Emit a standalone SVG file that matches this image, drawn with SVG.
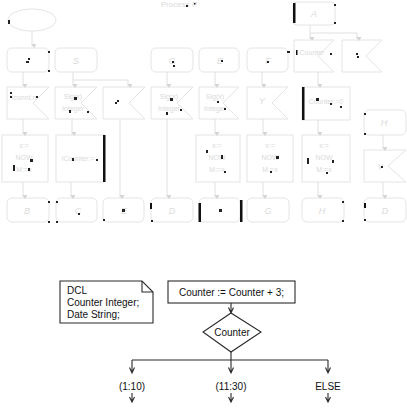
<svg xmlns="http://www.w3.org/2000/svg" width="407" height="416" viewBox="0 0 407 416">
<defs>
<style>
.f{fill:#fff;stroke:#e4e4e4;stroke-width:1}
.c{fill:none;stroke:#e0e0e0;stroke-width:1}
.ft{font-family:"Liberation Sans",Arial,sans-serif;font-size:9px;fill:#dadada;text-anchor:middle;font-style:italic}
.bar{fill:#111}
.dot{fill:#222}
.b{fill:#fff;stroke:#2a2a2a;stroke-width:1.1}
.bl{fill:none;stroke:#2a2a2a;stroke-width:1.1}
.t{font-family:"Liberation Sans",Arial,sans-serif;font-size:10px;fill:#111}
</style>
<marker id="ga" markerWidth="6" markerHeight="6" refX="3" refY="5" orient="auto-start-reverse" markerUnits="userSpaceOnUse" viewBox="0 0 6 6">
<path d="M0.5,1 L3,5 L5.5,1 Z" fill="#d4d4d4" transform="rotate(-90 3 3)"/>
</marker>
</defs>
<rect width="407" height="416" fill="#fff"/>

<!-- faded upper diagram -->
<g id="title"><text class="ft" x="179" y="7" style="font-style:normal;font-size:8px">Process P</text><rect class="dot" x="186" y="5" width="2" height="2"/><rect class="dot" x="194" y="3" width="1.5" height="1.5"/></g>
<g id="start"><ellipse class="f" cx="32" cy="20" rx="24" ry="11"/><rect class="dot" x="8" y="20" width="2" height="4"/></g>
<g id="stateTop"><rect class="f" x="293" y="2" width="42" height="23" rx="4"/><rect class="bar" x="293" y="3" width="2.5" height="20"/><text class="ft" x="314" y="17">A</text><rect class="dot" x="334" y="4" width="2" height="2"/><rect class="dot" x="334" y="22" width="2" height="2"/></g>

<g id="r1">
<rect class="f" x="7" y="48" width="42" height="24" rx="5"/><rect class="dot" x="26" y="61" width="3" height="2"/><rect class="dot" x="28" y="58" width="2" height="2"/><rect class="dot" x="48" y="51" width="2" height="2"/><rect class="dot" x="48" y="70" width="2" height="2"/>
<rect class="f" x="55" y="48" width="42" height="24" rx="5"/><text class="ft" x="76" y="64">S</text>
<rect class="f" x="151" y="48" width="42" height="24" rx="5"/><text class="ft" x="172" y="64">G</text><rect class="dot" x="172" y="61" width="2" height="2"/><rect class="dot" x="173" y="65" width="2" height="2"/>
<rect class="f" x="199" y="48" width="40" height="24" rx="5"/><text class="ft" x="220" y="64">E</text><rect class="dot" x="221" y="60" width="2" height="2"/>
<rect class="f" x="247" y="48" width="41" height="24" rx="5"/><text class="ft" x="268" y="64">F</text><rect class="dot" x="267" y="61" width="2" height="2"/><rect class="dot" x="288" y="51" width="2" height="2"/>
<polygon class="f" points="294,40 334,40 318,56 334,72 294,72"/><text class="ft" x="312" y="55" style="font-style:normal;font-size:7px">Counter</text><rect class="bar" x="296" y="50" width="1.5" height="5"/><rect class="dot" x="287" y="51" width="2" height="2"/><rect class="dot" x="330" y="53" width="2" height="2"/>
<polygon class="f" points="342,40 382,40 366,56 382,72 342,72"/><rect class="dot" x="356" y="53" width="2" height="2"/><rect class="dot" x="357" y="56" width="2" height="2"/>
</g>

<g id="r2">
<polygon class="f" points="7,87 49,87 33,103 49,119 7,119"/><text class="ft" x="24" y="100" style="font-style:normal;font-size:7px">Iconnt.n</text><rect class="dot" x="10" y="92" width="2" height="2"/><rect class="dot" x="10" y="96" width="2" height="2"/><rect class="dot" x="36" y="96" width="2" height="2"/>
<polygon class="f" points="55,87 97,87 81,103 97,119 55,119"/><text class="ft" x="73" y="99" style="font-style:normal;font-size:7px">Sig(x)</text><text class="ft" x="73" y="111" style="font-style:normal;font-size:7px">Integer</text><rect class="dot" x="74" y="97" width="3" height="3"/><rect class="dot" x="69" y="110" width="2" height="3"/><rect class="dot" x="87" y="111" width="2" height="2"/>
<polygon class="f" points="103,87 145,87 129,103 145,119 103,119"/><rect class="dot" x="117" y="100" width="2" height="2"/><rect class="dot" x="115" y="102" width="2" height="2"/>
<polygon class="f" points="151,87 193,87 177,103 193,119 151,119"/><text class="ft" x="169" y="99" style="font-style:normal;font-size:7px">Sig(x)</text><text class="ft" x="169" y="111" style="font-style:normal;font-size:7px">Integer</text><rect class="dot" x="170" y="98" width="3" height="3"/><rect class="dot" x="166" y="112" width="2" height="3"/><rect class="dot" x="180" y="109" width="2" height="2"/>
<polygon class="f" points="199,87 239,87 223,103 239,119 199,119"/><text class="ft" x="215" y="99" style="font-style:normal;font-size:7px">Sig(x)</text><text class="ft" x="215" y="111" style="font-style:normal;font-size:7px">Integer</text><rect class="dot" x="217" y="101" width="2" height="2"/><rect class="dot" x="224" y="108" width="2" height="2"/>
<polygon class="f" points="247,87 288,87 272,103 288,119 247,119"/><text class="ft" x="262" y="104">Y</text>
<rect class="f" x="302" y="87" width="48" height="33"/><rect class="bar" x="302" y="87" width="2.5" height="33"/><text class="ft" x="326" y="104" style="font-style:normal;font-size:7px">Counter:=0</text><rect class="dot" x="316" y="98" width="3" height="3"/><rect class="dot" x="330" y="103" width="2" height="2"/><rect class="dot" x="340" y="106" width="2" height="2"/>
</g>

<g id="rH"><rect class="f" x="364" y="110" width="42" height="25" rx="5"/><text class="ft" x="384" y="126">H</text><rect class="dot" x="364" y="113" width="2" height="2"/><rect class="dot" x="364" y="133" width="2" height="2"/></g>

<g id="r3">
<rect class="f" x="2" y="135" width="46" height="47"/><text class="ft" x="24" y="148" style="font-style:normal;font-size:7px">x:=</text><text class="ft" x="24" y="160" style="font-style:normal;font-size:7px">NOW</text><text class="ft" x="24" y="172" style="font-style:normal;font-size:7px">M:=x</text><rect class="dot" x="13" y="165" width="2" height="6"/><rect class="dot" x="30" y="159" width="3" height="3"/><rect class="dot" x="28" y="168" width="2" height="3"/>
<rect class="f" x="56" y="135" width="48" height="47"/><rect class="bar" x="103" y="135" width="2.5" height="47"/><text class="ft" x="78" y="161" style="font-style:normal;font-size:7px">ICounter:=</text><rect class="dot" x="72" y="158" width="2" height="3"/><rect class="dot" x="96" y="159" width="2" height="2"/>
<rect class="f" x="196" y="135" width="44" height="47"/><text class="ft" x="217" y="148" style="font-style:normal;font-size:7px">x:=</text><text class="ft" x="217" y="160" style="font-style:normal;font-size:7px">NOW</text><text class="ft" x="217" y="172" style="font-style:normal;font-size:7px">M:=x</text><rect class="dot" x="206" y="150" width="2" height="3"/><rect class="dot" x="221" y="155" width="2" height="4"/><rect class="dot" x="224" y="171" width="2" height="2"/>
<rect class="f" x="247" y="135" width="46" height="47"/><text class="ft" x="270" y="148" style="font-style:normal;font-size:7px">x:=</text><text class="ft" x="270" y="160" style="font-style:normal;font-size:7px">NOW</text><text class="ft" x="270" y="172" style="font-style:normal;font-size:7px">M:=x</text><rect class="dot" x="276" y="156" width="3" height="3"/><rect class="dot" x="270" y="171" width="2" height="2"/>
<rect class="f" x="302" y="135" width="48" height="47"/><text class="ft" x="324" y="148" style="font-style:normal;font-size:7px">x:=</text><text class="ft" x="324" y="160" style="font-style:normal;font-size:7px">NOW</text><text class="ft" x="324" y="172" style="font-style:normal;font-size:7px">M:=x</text><rect class="dot" x="307" y="158" width="2" height="6"/><rect class="dot" x="332" y="160" width="2" height="3"/><rect class="dot" x="326" y="172" width="2" height="2"/>
<polygon class="f" points="364,150 406,150 388,166 406,182 364,182"/><text class="ft" x="380" y="170">Y</text><rect class="dot" x="381" y="166" width="2" height="2"/>
</g>

<g id="r4">
<rect class="f" x="7" y="198" width="42" height="24" rx="5"/><text class="ft" x="27" y="214">B</text><rect class="dot" x="48" y="201" width="2" height="2"/><rect class="dot" x="48" y="221" width="2" height="2"/>
<rect class="f" x="56" y="198" width="41" height="24" rx="5"/><text class="ft" x="78" y="214">C</text><rect class="dot" x="56" y="201" width="2" height="2"/><rect class="dot" x="56" y="221" width="2" height="2"/><rect class="dot" x="78" y="213" width="2" height="2"/>
<rect class="f" x="103" y="198" width="41" height="24" rx="5"/><text class="ft" x="124" y="214">E</text><rect class="dot" x="122" y="209" width="3" height="3"/><rect class="dot" x="103" y="219" width="2" height="2"/>
<rect class="f" x="151" y="198" width="42" height="24" rx="5"/><text class="ft" x="172" y="214">D</text><rect class="bar" x="150" y="203" width="2" height="6"/><rect class="dot" x="151" y="220" width="2" height="2"/>
<rect class="f" x="199" y="198" width="41" height="24" rx="5"/><rect class="bar" x="198.5" y="203" width="2.5" height="19"/><rect class="bar" x="240" y="200" width="2.5" height="22"/><rect class="dot" x="219" y="209" width="3" height="3"/>
<rect class="f" x="247" y="198" width="42" height="24" rx="5"/><text class="ft" x="268" y="214">G</text>
<rect class="f" x="302" y="198" width="42" height="24" rx="5"/><text class="ft" x="322" y="214">H</text><rect class="dot" x="342" y="201" width="2" height="2"/><rect class="dot" x="342" y="220" width="2" height="2"/>
<rect class="f" x="364" y="198" width="42" height="24" rx="5"/><text class="ft" x="385" y="214">D</text><rect class="bar" x="364" y="203" width="2" height="5"/><rect class="dot" x="364" y="219" width="2" height="2"/>
</g>

<g id="fadedConnectors">
<path class="c" d="M32,31V46" marker-end="url(#ga)"/>
<path class="c" d="M23,72V86" marker-end="url(#ga)"/>
<path class="c" d="M73,72V86" marker-end="url(#ga)"/>
<path class="c" d="M73,80H128V86" marker-end="url(#ga)"/>
<path class="c" d="M167,72V86" marker-end="url(#ga)"/>
<path class="c" d="M215,72V86" marker-end="url(#ga)"/>
<path class="c" d="M262,72V86" marker-end="url(#ga)"/>
<path class="c" d="M310,25V39" marker-end="url(#ga)"/>
<path class="c" d="M310,33H357V39" marker-end="url(#ga)"/>
<path class="c" d="M318,72V86" marker-end="url(#ga)"/>
<path class="c" d="M23,119V134" marker-end="url(#ga)"/>
<path class="c" d="M72,119V134" marker-end="url(#ga)"/>
<path class="c" d="M215,119V134" marker-end="url(#ga)"/>
<path class="c" d="M263,119V134" marker-end="url(#ga)"/>
<path class="c" d="M318,120V134" marker-end="url(#ga)"/>
<path class="c" d="M120,119V197" marker-end="url(#ga)"/>
<path class="c" d="M167,119V197" marker-end="url(#ga)"/>
<path class="c" d="M23,182V197" marker-end="url(#ga)"/>
<path class="c" d="M71,182V197" marker-end="url(#ga)"/>
<path class="c" d="M215,182V197" marker-end="url(#ga)"/>
<path class="c" d="M263,182V197" marker-end="url(#ga)"/>
<path class="c" d="M318,182V197" marker-end="url(#ga)"/>
<path class="c" d="M383,135V149" marker-end="url(#ga)"/>
<path class="c" d="M383,182V197" marker-end="url(#ga)"/>
</g>

<!-- lower diagram -->
<g id="note">
<path class="b" d="M60,281H142L153,292V323H60Z"/>
<path class="bl" d="M142,281V292H153"/>
<text class="t" x="67" y="294">DCL</text>
<text class="t" x="67" y="306">Counter Integer;</text>
<text class="t" x="67" y="318">Date String;</text>
</g>
<g id="task">
<rect class="b" x="168" y="281" width="127" height="22"/>
<text class="t" x="231.5" y="296" text-anchor="middle">Counter := Counter + 3;</text>
</g>
<g id="decision">
<polygon class="b" points="231,313 261,332 231,352 203,332"/>
<text class="t" x="232" y="336" text-anchor="middle">Counter</text>
</g>
<g id="ans1"><text class="t" x="132" y="390" text-anchor="middle">(1:10)</text></g>
<g id="ans2"><text class="t" x="231" y="390" text-anchor="middle">(11:30)</text></g>
<g id="ans3"><text class="t" x="328" y="390" text-anchor="middle">ELSE</text></g>
<g id="connectors">
<path class="bl" d="M231,303V313M228.5,307.5L231,313L233.5,307.5"/>
<path class="bl" d="M231,352V360M132,360H328"/>
<path class="bl" d="M132,360V373M129.5,367.5L132,373L134.5,367.5"/>
<path class="bl" d="M231,360V373M228.5,367.5L231,373L233.5,367.5"/>
<path class="bl" d="M328,360V373M325.5,367.5L328,373L330.5,367.5"/>
<path class="bl" d="M132,393V402M129.5,397L132,402L134.5,397"/>
<path class="bl" d="M231,393V402M228.5,397L231,402L233.5,397"/>
<path class="bl" d="M328,393V402M325.5,397L328,402L330.5,397"/>
</g>
</svg>
